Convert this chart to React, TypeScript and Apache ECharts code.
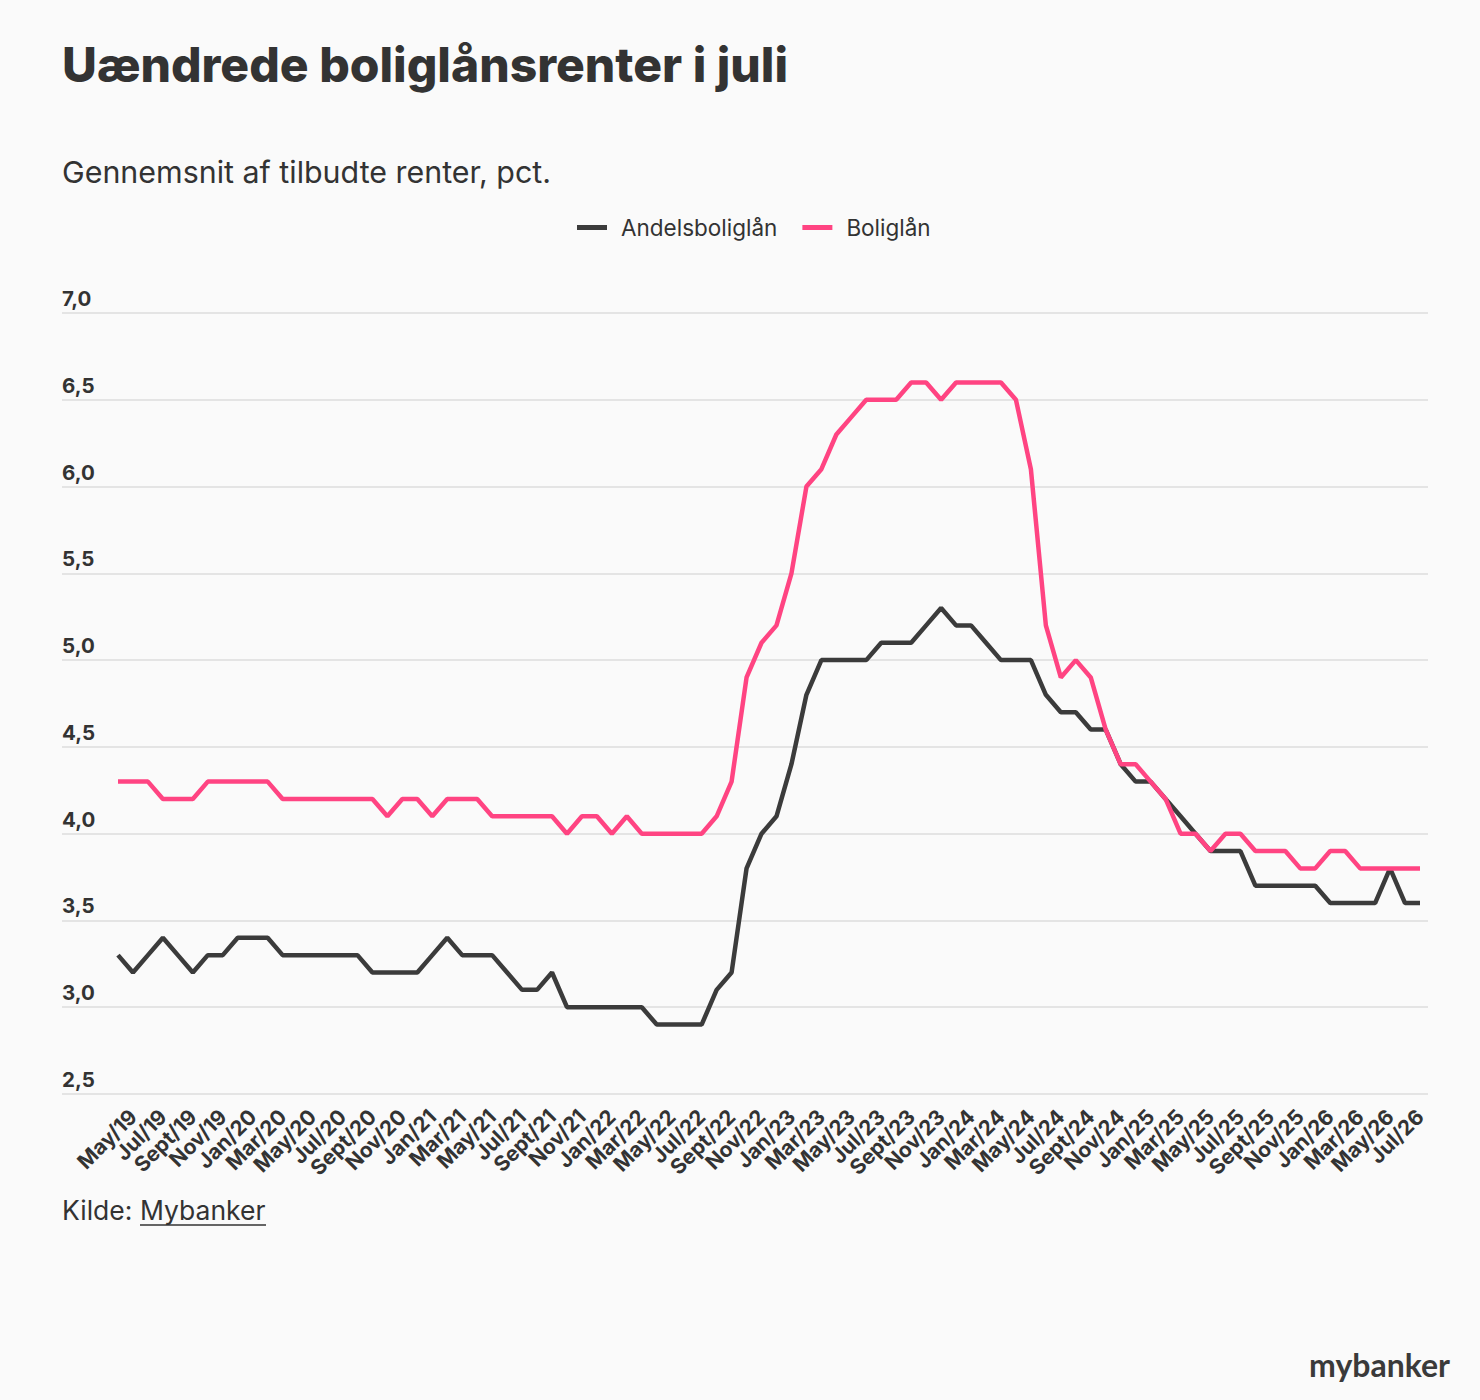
import React, { useEffect, useRef } from "react";
import * as echarts from "echarts";

const monthNames = ["Jan", "Feb", "Mar", "Apr", "May", "Jun", "Jul", "Aug", "Sept", "Oct", "Nov", "Dec"];
const startYear = 2019;
const startMonth = 3; // April 2019 (index into monthNames)
const monthCount = 88;

const months: string[] = Array.from({ length: monthCount }, (_, k) => {
  const m = (startMonth + k) % 12;
  const y = startYear + Math.floor((startMonth + k) / 12);
  return `${monthNames[m]}/${String(y).slice(2)}`;
});

const andelsboliglaan = [
  3.3, 3.2, 3.3, 3.4, 3.3, 3.2, 3.3, 3.3, 3.4, 3.4,
  3.4, 3.3, 3.3, 3.3, 3.3, 3.3, 3.3, 3.2, 3.2, 3.2,
  3.2, 3.3, 3.4, 3.3, 3.3, 3.3, 3.2, 3.1, 3.1, 3.2,
  3.0, 3.0, 3.0, 3.0, 3.0, 3.0, 2.9, 2.9, 2.9, 2.9,
  3.1, 3.2, 3.8, 4.0, 4.1, 4.4, 4.8, 5.0, 5.0, 5.0,
  5.0, 5.1, 5.1, 5.1, 5.2, 5.3, 5.2, 5.2, 5.1, 5.0,
  5.0, 5.0, 4.8, 4.7, 4.7, 4.6, 4.6, 4.4, 4.3, 4.3,
  4.2, 4.1, 4.0, 3.9, 3.9, 3.9, 3.7, 3.7, 3.7, 3.7,
  3.7, 3.6, 3.6, 3.6, 3.6, 3.8, 3.6, 3.6,
];

const boliglaan = [
  4.3, 4.3, 4.3, 4.2, 4.2, 4.2, 4.3, 4.3, 4.3, 4.3,
  4.3, 4.2, 4.2, 4.2, 4.2, 4.2, 4.2, 4.2, 4.1, 4.2,
  4.2, 4.1, 4.2, 4.2, 4.2, 4.1, 4.1, 4.1, 4.1, 4.1,
  4.0, 4.1, 4.1, 4.0, 4.1, 4.0, 4.0, 4.0, 4.0, 4.0,
  4.1, 4.3, 4.9, 5.1, 5.2, 5.5, 6.0, 6.1, 6.3, 6.4,
  6.5, 6.5, 6.5, 6.6, 6.6, 6.5, 6.6, 6.6, 6.6, 6.6,
  6.5, 6.1, 5.2, 4.9, 5.0, 4.9, 4.6, 4.4, 4.4, 4.3,
  4.2, 4.0, 4.0, 3.9, 4.0, 4.0, 3.9, 3.9, 3.9, 3.8,
  3.8, 3.9, 3.9, 3.8, 3.8, 3.8, 3.8, 3.8,
];

const yMin = 2.5;
const yMax = 7.0;
const yStep = 0.5;

const title = "Uændrede boliglånsrenter i juli";
const subtitle = "Gennemsnit af tilbudte renter, pct.";
const seriesNames = ["Andelsboliglån", "Boliglån"];
const seriesColors = ["#3b3b3b", "#ff4482"];

const FONT = "Inter, 'Noto Sans', sans-serif";
const LOGO_FONT = "Lato, Inter, sans-serif";
const TEXT = "#333333";

export default function App() {
  const ref = useRef<HTMLDivElement>(null);

  useEffect(() => {
    if (!ref.current) return;
    const chart = echarts.init(ref.current, undefined, { renderer: "svg" });
    chart.setOption({
      animation: false,
      backgroundColor: "#fafafa",
      textStyle: { fontFamily: FONT },
      grid: [
        { left: 62, right: 52, top: 313, bottom: 306 },
        { left: 118, right: 60, top: 313, bottom: 306 },
      ],
      legend: {
        data: seriesNames,
        left: 572,
        top: 211,
        icon: "rect",
        itemWidth: 30,
        itemHeight: 5,
        itemGap: 25,
        textStyle: { fontFamily: FONT, fontSize: 22.5, color: TEXT, padding: [0, 0, 0, 9] },
      },
      xAxis: [
        { type: "value", gridIndex: 0, show: false, min: 0, max: 1 },
        {
          type: "category",
          gridIndex: 1,
          data: months,
          boundaryGap: false,
          axisLine: { show: false },
          axisTick: { show: false },
          splitLine: { show: false },
          axisLabel: {
            interval: (i: number) => i % 2 === 1,
            rotate: 45,
            margin: 19,
            fontFamily: FONT,
            fontSize: 21,
            fontWeight: "bold",
            color: TEXT,
          },
        },
      ],
      yAxis: [
        {
          type: "value",
          gridIndex: 0,
          min: yMin,
          max: yMax,
          interval: yStep,
          axisLine: { show: false },
          axisTick: { show: false },
          splitLine: { show: true, lineStyle: { color: "#e4e4e4", width: 2 } },
          axisLabel: {
            inside: true,
            margin: 0,
            align: "left",
            verticalAlign: "bottom",
            padding: [0, 0, 4, 0],
            fontFamily: FONT,
            fontSize: 20.5,
            fontWeight: "bold",
            color: TEXT,
            formatter: (v: number) => v.toFixed(1).replace(".", ","),
          },
        },
        { type: "value", gridIndex: 1, min: yMin, max: yMax, show: false, splitLine: { show: false } },
      ],
      series: [
        {
          name: seriesNames[0],
          type: "line",
          xAxisIndex: 1,
          yAxisIndex: 1,
          data: andelsboliglaan,
          symbol: "none",
          color: seriesColors[0],
          lineStyle: { width: 4.5, color: seriesColors[0] },
        },
        {
          name: seriesNames[1],
          type: "line",
          xAxisIndex: 1,
          yAxisIndex: 1,
          data: boliglaan,
          symbol: "none",
          color: seriesColors[1],
          lineStyle: { width: 4.5, color: seriesColors[1] },
        },
      ],
      graphic: [
        {
          type: "text",
          left: 62,
          top: 40,
          style: { text: title, font: `800 48px ${FONT}`, fill: TEXT },
        },
        {
          type: "text",
          left: 62,
          top: 157,
          style: { text: subtitle, font: `30.4px ${FONT}`, fill: TEXT },
        },
        {
          type: "text",
          left: 62,
          top: 1196,
          style: { text: "Kilde:", font: `26.5px ${FONT}`, fill: TEXT },
        },
        {
          type: "text",
          left: 140,
          top: 1196,
          style: { text: "Mybanker", font: `26.5px ${FONT}`, fill: TEXT },
        },
        {
          type: "line",
          shape: { x1: 140, y1: 1225, x2: 266, y2: 1225 },
          style: { stroke: TEXT, lineWidth: 1.5 },
        },
        {
          type: "text",
          right: 30,
          top: 1348,
          style: { text: "mybanker", font: `bold 32px ${LOGO_FONT}`, fill: "#3a3a3a" },
        },
      ],
    });
    return () => chart.dispose();
  }, []);

  return (
    <div
      ref={ref}
      style={{ position: "absolute", left: 0, top: 0, width: 1480, height: 1400 }}
    />
  );
}
